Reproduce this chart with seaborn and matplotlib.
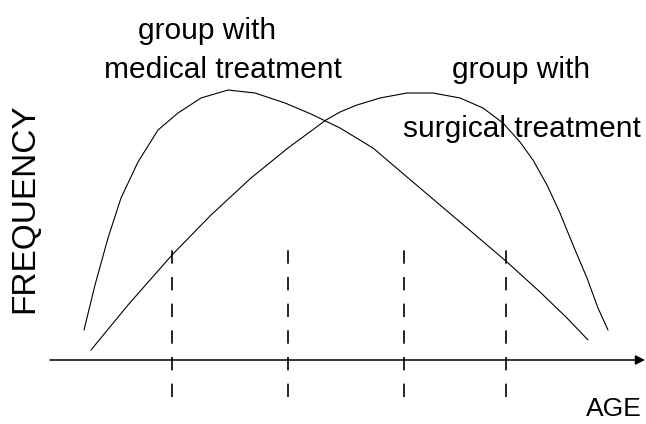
import matplotlib
matplotlib.use("Agg")
import matplotlib.pyplot as plt
import seaborn as sns
import pandas as pd

# Curves: age (arbitrary units) vs frequency above the age axis
medical_age = [84, 95, 108, 121, 138, 158, 178, 201, 228, 255, 285, 311, 340,
               373, 407, 440, 473, 507, 540, 567, 588]
medical_freq = [30, 75, 122, 162, 198, 230, 247, 262, 270, 267, 257, 246, 232,
                212, 183, 155, 127, 98, 68, 42, 20]

surgical_age = [91, 128, 172, 211, 251, 288, 326, 340, 357, 380, 407, 433, 460,
                483, 503, 520, 533, 547, 560, 573, 587, 598, 608]
surgical_freq = [10, 55, 105, 145, 182, 212, 240, 248, 255, 262, 267, 267, 262,
                 252, 237, 218, 200, 175, 147, 115, 82, 52, 30]

# Age cut points shown as dashed lines
cut_ages = [172, 288, 404, 506]

medical_label = ["group with", "medical treatment"]
surgical_label = ["group with", "surgical treatment"]

sns.set_theme(style="white")
plt.rcParams["font.family"] = ["Liberation Sans", "DejaVu Sans"]
plt.rcParams["text.color"] = "black"

df = pd.concat([
    pd.DataFrame({"age": medical_age, "freq": medical_freq, "group": "medical"}),
    pd.DataFrame({"age": surgical_age, "freq": surgical_freq, "group": "surgical"}),
])

fig = plt.figure(figsize=(6.46, 4.24), dpi=100)
ax = fig.add_axes([0, 0, 1, 1])

sns.lineplot(data=df, x="age", y="freq", hue="group", palette=["black", "black"],
             estimator=None, sort=False, lw=0.8, legend=False, ax=ax)

# dashed cut lines
ax.vlines(cut_ages, -37, 110, colors="black", linestyles=(0, (8, 8)), lw=1.2)

# age axis with arrow
ax.annotate("", xy=(645, 0), xytext=(50, 0),
            arrowprops=dict(arrowstyle="-|>", color="black", lw=1.1,
                            mutation_scale=14, shrinkA=0, shrinkB=0))

# group labels
ax.text(207, 321, medical_label[0], ha="center", va="baseline", fontsize=21.5)
ax.text(223, 282, medical_label[1], ha="center", va="baseline", fontsize=21.5)
ax.text(521, 282, surgical_label[0], ha="center", va="baseline", fontsize=21.5)
ax.text(522, 223, surgical_label[1], ha="center", va="baseline", fontsize=21.5)

# axis names
ax.text(614, -56, "AGE", ha="center", va="baseline", fontsize=19)
ax.text(25, 152, "FREQUENCY", rotation=90, ha="center", va="center", fontsize=24)

ax.set_xlim(0, 646)
ax.set_ylim(-64, 360)
ax.axis("off")

fig.savefig("out.png", dpi=100, facecolor="white")
